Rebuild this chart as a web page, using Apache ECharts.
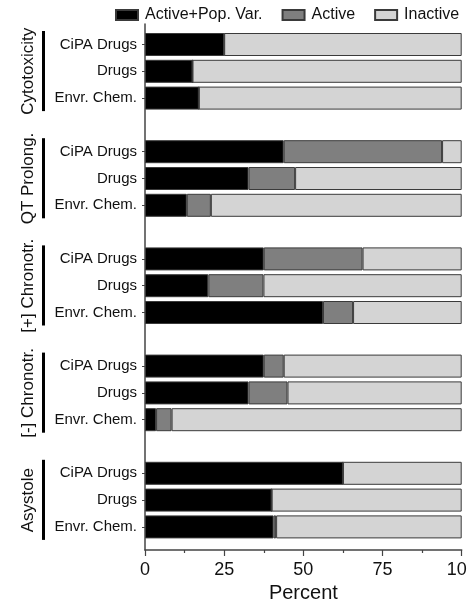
<!DOCTYPE html>
<html><head><meta charset="utf-8">
<script src="https://cdn.jsdelivr.net/npm/echarts@6/dist/echarts.min.js"></script>
<style>html,body{margin:0;padding:0;background:#fff}#c{width:467px;height:602px}</style>
</head><body><div id="c"></div>
<script>
const groups = ['Cytotoxicity', 'QT Prolong.', '[+] Chronotr.', '[-] Chronotr.', 'Asystole'];
const categories = ['CiPA Drugs', 'Drugs', 'Envr. Chem.'];
const seriesNames = ['Active+Pop. Var.', 'Active', 'Inactive'];
const activePopVar = [25, 15, 17, 43.8, 32.7, 13.2, 37.5, 20, 56.2, 37.5, 32.7, 3.5, 62.5, 40, 40.6];
const active = [0, 0, 0, 50, 14.7, 7.6, 31.2, 17.4, 9.5, 6.3, 12.3, 4.9, 0, 0, 0.8];
const inactive = [75, 85, 83, 6.2, 52.6, 79.2, 31.3, 62.6, 34.3, 56.2, 55, 91.6, 37.5, 60, 58.6];
const xTicks = [0, 25, 50, 75, 100];
const colors = ['#000000', '#7f7f7f', '#d4d4d4'];

const FONT = '"Liberation Sans", Arial, sans-serif';
const axisCats = [];
const slotIndex = [];
groups.forEach((g, gi) => {
  categories.forEach((c) => { slotIndex.push(axisCats.length); axisCats.push(c); });
  if (gi < groups.length - 1) axisCats.push('');
});
function spread(arr) {
  const out = axisCats.map(() => '-');
  arr.forEach((v, i) => { out[slotIndex[i]] = v; });
  return out;
}
const dataSets = [activePopVar, active, inactive];

const chart = echarts.init(document.getElementById('c'), null, {renderer: 'canvas'});
const slot = 26.8;
const gridATop = 31.1;
const option = {
  animation: false,
  backgroundColor: '#fff',
  textStyle: {fontFamily: FONT},
  legend: {
    top: 2, left: 110, padding: 5, icon: 'rect',
    itemWidth: 22, itemHeight: 10, itemGap: 19,
    textStyle: {fontSize: 16, color: '#111', fontFamily: FONT, padding: [0, 0, 0, 2]},
    data: seriesNames
  },
  grid: [
    {left: 145, right: 5.3, top: gridATop, height: slot * axisCats.length, outerBoundsMode: 'none', containLabel: false},
    {left: 145, right: 5.3, top: 24, bottom: 52, outerBoundsMode: 'none', containLabel: false}
  ],
  xAxis: [
    {gridIndex: 0, type: 'value', min: 0, max: 100, show: false},
    {gridIndex: 1, type: 'value', min: xTicks[0], max: xTicks[xTicks.length - 1], interval: 25,
      axisLine: {show: true, lineStyle: {color: '#444', width: 1.5}},
      axisTick: {show: true, length: 6, lineStyle: {color: '#444', width: 1.2}},
      minorTick: {show: true, splitNumber: 2, length: 3, lineStyle: {color: '#444', width: 1.2}},
      splitLine: {show: false},
      axisLabel: {fontSize: 18, color: '#111', margin: 11, fontFamily: FONT, hideOverlap: false},
      name: 'Percent', nameLocation: 'middle', nameGap: 32,
      nameTextStyle: {fontSize: 20, color: '#111', fontFamily: FONT}
    }
  ],
  yAxis: [
    {gridIndex: 0, type: 'category', inverse: true, data: axisCats,
      axisLine: {show: false},
      axisTick: {show: true, length: 3, alignWithLabel: true, interval: (i, v) => v !== '',
        lineStyle: {color: '#444', width: 1}},
      axisLabel: {fontSize: 15, color: '#111', margin: 8, interval: 0, fontFamily: FONT}
    },
    {gridIndex: 1, type: 'value', min: 0, max: 1,
      axisLine: {show: true, lineStyle: {color: '#444', width: 1.5}},
      axisTick: {show: false}, axisLabel: {show: false}, splitLine: {show: false}}
  ],
  series: seriesNames.map((n, si) => ({
    name: n, type: 'bar', stack: 'total', xAxisIndex: 0, yAxisIndex: 0,
    barWidth: 23,
    itemStyle: {color: colors[si], borderColor: '#3a3a3a', borderWidth: 1},
    data: spread(dataSets[si])
  }))
};
chart.setOption(option);

const graphics = [];
groups.forEach((g, gi) => {
  const first = chart.convertToPixel({yAxisIndex: 0}, slotIndex[gi * 3]);
  const last = chart.convertToPixel({yAxisIndex: 0}, slotIndex[gi * 3 + 2]);
  const top = first - 13.5, bottom = last + 13;
  graphics.push({
    type: 'line', silent: true,
    shape: {x1: 43.5, y1: top, x2: 43.5, y2: bottom},
    style: {stroke: '#000', lineWidth: 3}
  });
  graphics.push({
    type: 'text', silent: true, x: 28.5, y: (first + last) / 2, rotation: Math.PI / 2,
    style: {text: g, font: '17px ' + FONT, fill: '#111', textAlign: 'center', textVerticalAlign: 'middle'}
  });
});
chart.setOption({graphic: graphics});
</script></body></html>
